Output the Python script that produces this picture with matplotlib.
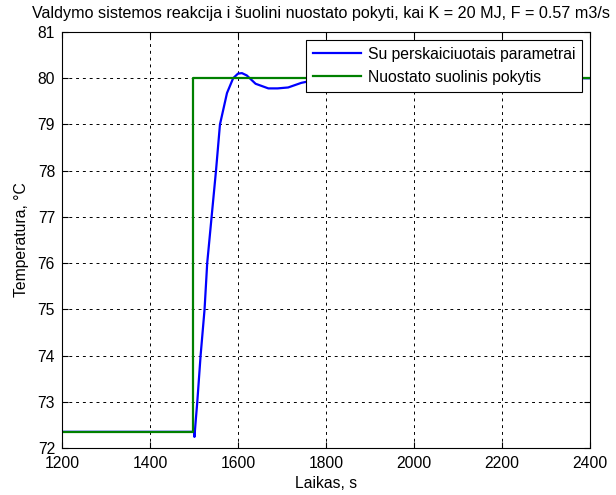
import matplotlib.pyplot as plt

plt.rcParams["font.family"] = ["Liberation Sans", "DejaVu Sans"]

# --- Data ---
resp_t = [1200, 1500, 1501, 1504, 1507.5, 1515, 1524, 1530, 1540, 1550, 1559,
          1575, 1589, 1600, 1609, 1620, 1640, 1669, 1690, 1714, 1744, 1780,
          1820, 2400]
resp_v = [72.35, 72.35, 72.24, 72.6, 73.0, 74.0, 75.0, 76.0, 77.0, 78.0, 79.0,
          79.68, 80.0, 80.1, 80.11, 80.06, 79.88, 79.78, 79.78, 79.8, 79.9,
          79.97, 80.0, 80.0]

sp_t = [1200, 1497, 1497, 2400]
sp_v = [72.35, 72.35, 80.0, 80.0]

x_ticks = [1200, 1400, 1600, 1800, 2000, 2200, 2400]
y_ticks = [72, 73, 74, 75, 76, 77, 78, 79, 80, 81]

FS = 11.3

# --- Plot ---
fig = plt.figure(figsize=(6.16, 4.95), dpi=100)
ax = fig.add_axes([62 / 616, 47 / 495, 528 / 616, 416 / 495])

ax.plot(resp_t, resp_v, color=(0, 0, 1), linewidth=1.6,
        label="Su perskaiciuotais parametrai")
ax.plot(sp_t, sp_v, color=(0, 0.5, 0), linewidth=1.6,
        label="Nuostato suolinis pokytis")

ax.set_xlim(1200, 2400)
ax.set_ylim(72, 81)
ax.set_xticks(x_ticks)
ax.set_yticks(y_ticks)
ax.tick_params(direction="in", top=True, right=True, labelsize=FS,
               length=4, width=0.8)
ax.tick_params(axis="x", pad=6)
ax.tick_params(axis="y", pad=5)
ax.grid(True, color="black", linestyle=(0, (3, 4)), linewidth=0.7)
for s in ax.spines.values():
    s.set_linewidth(0.8)

ax.set_title("Valdymo sistemos reakcija i šuolini nuostato pokyti, kai K = 20 MJ, F = 0.57 m3/s",
             fontsize=11.6, pad=10, x=0.49)
ax.set_xlabel("Laikas, s", fontsize=FS, labelpad=3)
ax.set_ylabel("Temperatura, °C", fontsize=FS, labelpad=6)

leg = ax.legend(loc="upper right", fontsize=FS, fancybox=False,
                framealpha=1, edgecolor="black", borderaxespad=0.5,
                handlelength=3.1, handletextpad=0.4, borderpad=0.45,
                labelspacing=0.5)
leg.get_frame().set_linewidth(0.8)

plt.savefig("out.png", dpi=100)
